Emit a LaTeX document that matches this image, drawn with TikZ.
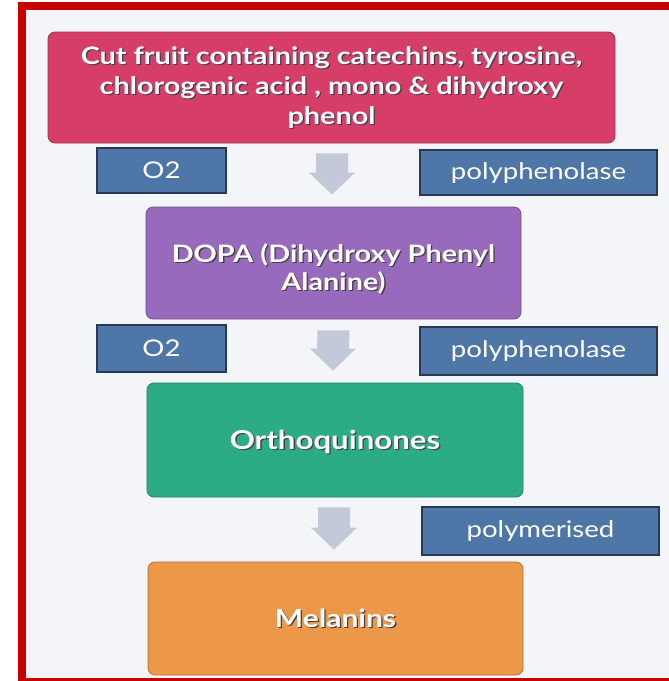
\documentclass[tikz,border=0pt]{standalone}
\usepackage{fontspec}
\setmainfont{Lato}
\newfontfamily\widefont[FakeStretch=1.2]{Lato}
\usetikzlibrary{calc}
\definecolor{bgc}{RGB}{243,245,248}
\definecolor{framec}{RGB}{200,0,0}
\definecolor{pinkc}{RGB}{214,62,104}
\definecolor{purplec}{RGB}{152,106,190}
\definecolor{greenc}{RGB}{44,172,132}
\definecolor{orangec}{RGB}{236,152,72}
\definecolor{tagc}{RGB}{78,118,166}
\definecolor{tagborder}{RGB}{40,58,82}
\definecolor{arrowc}{RGB}{196,201,218}
\definecolor{shadowc}{RGB}{70,60,70}
\begin{document}
\begin{tikzpicture}[x=1pt,y=-1pt,
  stagebox/.style={rounded corners=7pt, draw=#1!75!black, line width=0.8pt, fill=#1, inner sep=0pt},
  stagetext/.style={text=white, align=center, inner sep=0pt, font=\widefont\bfseries\fontsize{24}{30}\selectfont},
  shadowtext/.style={stagetext, text=shadowc},
  tagbox/.style={draw=tagborder, line width=1.3pt, fill=tagc, text=white, inner sep=0pt, font=\widefont\fontsize{23}{26}\selectfont},
  blockarr/.style={fill=arrowc}
]
\useasboundingbox (0,0) rectangle (669,681);
% background and frame
\fill[white] (0,0) rectangle (669,681);
\fill[bgc] (26,10) rectangle (669,678);
\fill[framec] (18,2) rectangle (26,681);
\fill[framec] (18,2) rectangle (669,10);
\fill[framec] (18,678) rectangle (669,681);

% stage boxes
\node[stagebox=pinkc, minimum width=567pt, minimum height=111pt] (pink) at (331.5,87.5) {};
\node[stagebox=purplec, minimum width=375pt, minimum height=112pt] (purple) at (333.5,263) {};
\node[stagebox=greenc, minimum width=376pt, minimum height=114pt] (green) at (335,440) {};
\node[stagebox=orangec, minimum width=375pt, minimum height=113pt] (orange) at (335.5,618.5) {};

% texts with shadow
\node[shadowtext] (pinkshadow) at ($(pink)+(1.3,1.3)$) {Cut fruit containing catechins, tyrosine,\\chlorogenic acid , mono \& dihydroxy\\phenol};
\node[stagetext] (pinktext) at (pink) {Cut fruit containing catechins, tyrosine,\\chlorogenic acid , mono \& dihydroxy\\phenol};
\node[shadowtext, font=\widefont\bfseries\fontsize{24}{28}\selectfont] (purpleshadow) at ($(purple)+(1.3,7.3)$) {DOPA (Dihydroxy Phenyl\\Alanine)};
\node[stagetext, font=\widefont\bfseries\fontsize{24}{28}\selectfont] (purpletext) at ($(purple)+(0,6)$) {DOPA (Dihydroxy Phenyl\\Alanine)};
\node[shadowtext, font=\widefont\bfseries\fontsize{26}{30}\selectfont] (greenshadow) at ($(green)+(1.3,3.3)$) {Orthoquinones};
\node[stagetext, font=\widefont\bfseries\fontsize{26}{30}\selectfont] (greentext) at ($(green)+(0,2)$) {Orthoquinones};
\node[shadowtext, font=\widefont\bfseries\fontsize{25}{30}\selectfont] (orangeshadow) at ($(orange)+(1.3,1.3)$) {Melanins};
\node[stagetext, font=\widefont\bfseries\fontsize{25}{30}\selectfont] (orangetext) at (orange) {Melanins};

% tags
\node[tagbox, minimum width=129pt, minimum height=45pt] (oa) at (161.5,170.5) {O2};
\node[tagbox, minimum width=237pt, minimum height=45pt] (pa) at (538.5,172.5) {polyphenolase};
\node[tagbox, minimum width=129pt, minimum height=47pt] (ob) at (161.5,348.5) {O2};
\node[tagbox, minimum width=237pt, minimum height=48pt] (pb) at (538.5,351) {polyphenolase};
\node[tagbox, minimum width=237pt, minimum height=48pt] (pm) at (540.5,531) {polymerised};

% block arrows
\coordinate (a1s) at ($(pink.south)+(0.5,10)$);
\coordinate (a1e) at ($(purple.north)+(-1.5,-12)$);
\fill[blockarr] ($(a1s)+(-16,0)$) -- ($(a1s)+(16,0)$) -- ($(a1e)+(16,-22)$) -- ($(a1e)+(23,-22)$) -- (a1e) -- ($(a1e)+(-23,-22)$) -- ($(a1e)+(-16,-22)$) -- cycle;
\coordinate (a2s) at ($(purple.south)+(0,11)$);
\coordinate (a2e) at ($(green.north)+(-2,-12)$);
\fill[blockarr] ($(a2s)+(-16,0)$) -- ($(a2s)+(16,0)$) -- ($(a2e)+(16,-22)$) -- ($(a2e)+(23,-22)$) -- (a2e) -- ($(a2e)+(-23,-22)$) -- ($(a2e)+(-16,-22)$) -- cycle;
\coordinate (a3s) at ($(green.south)+(-1,10)$);
\coordinate (a3e) at ($(orange.north)+(-1.5,-12)$);
\fill[blockarr] ($(a3s)+(-16,0)$) -- ($(a3s)+(16,0)$) -- ($(a3e)+(16,-22)$) -- ($(a3e)+(23,-22)$) -- (a3e) -- ($(a3e)+(-23,-22)$) -- ($(a3e)+(-16,-22)$) -- cycle;
\end{tikzpicture}
\end{document}
